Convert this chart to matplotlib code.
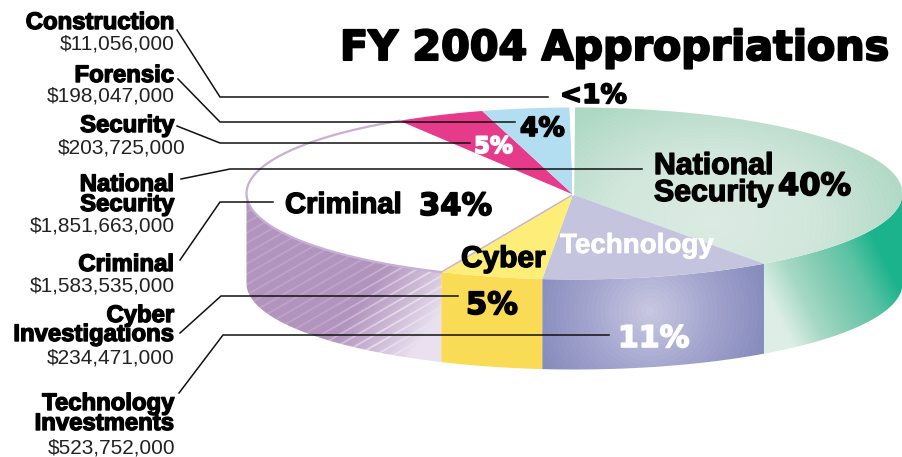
import numpy as np
import matplotlib
matplotlib.use("Agg")
import matplotlib.pyplot as plt
import matplotlib.patheffects as pe
from matplotlib.colors import LinearSegmentedColormap as LSC
from matplotlib.patches import Polygon

# ---- data (clockwise from 12 o'clock) ----
categories = ["National Security", "Technology Investments", "Cyber Investigations",
              "Criminal", "Security", "Forensic", "Construction"]
amounts = [1851663000, 523752000, 234471000, 1583535000, 203725000, 198047000, 11056000]
amount_labels = ["$1,851,663,000", "$523,752,000", "$234,471,000",
                 "$1,583,535,000", "$203,725,000", "$198,047,000", "$11,056,000"]
percent_labels = ["40%", "11%", "5%", "34%", "5%", "4%", "<1%"]
title = "FY 2004 Appropriations"

W, H = 903, 457
CX, CY, RX, RY, DEPTH = 574.5, 193.5, 328, 86, 90
AX, AY = 573, 194.5

fig = plt.figure(figsize=(W / 100, H / 100), dpi=100)
ax = fig.add_axes([0, 0, 1, 1])
ax.set_xlim(0, W); ax.set_ylim(H, 0); ax.axis("off")

vals = np.array(amounts, float)
edges = np.concatenate([[0], np.cumsum(vals) / vals.sum() * 360])


def arc(a, b, dy=0, n=160):
    t = np.radians(np.linspace(a, b, n))
    return np.c_[CX + RX * np.sin(t), CY + dy - RY * np.cos(t)]


def wedge(i):
    return np.vstack([[AX, AY], arc(edges[i], edges[i + 1])])


def wall(a, b):
    return np.vstack([arc(a, b), arc(a, b, DEPTH)[::-1]])


def painted(poly, field, stops, z):
    """Fill polygon with an image of a 0..1 field mapped through colour stops."""
    x0, y0 = poly.min(0) - 1
    x1, y1 = poly.max(0) + 1
    nx, ny = int(x1 - x0) * 2, int(y1 - y0) * 2
    X, Y = np.meshgrid(np.linspace(x0, x1, nx), np.linspace(y0, y1, ny))
    cmap = LSC.from_list("c", stops)
    im = ax.imshow(field(X, Y), cmap=cmap, vmin=0, vmax=1, extent=(x0, x1, y1, y0),
                   origin="upper", aspect="auto", zorder=z, interpolation="bilinear")
    p = Polygon(poly, closed=True, fc="none", ec="none", transform=ax.transData)
    ax.add_patch(p)
    im.set_clip_path(p)


def rings(cx, cy, rmax, period=5.0, amp=0.035, sy=1.0):
    def f(X, Y):
        r = np.hypot(X - cx, (Y - cy) * sy)
        return np.clip(r / rmax + amp * np.sin(r * 2 * np.pi / period), 0, 1)
    return f


def criminal_field(X, Y):
    base = np.clip(((440 - X) - (Y - 300) * 0.7) / 110 + 0.1, 0, 1)
    stripe = np.sin((X * 0.5 + Y * 0.87) * 2 * np.pi / 9) > 0.85
    return np.clip(base - 0.4 * stripe, 0, 1)


# ---- side walls ----
painted(wall(90, edges[1]),
        lambda X, Y: np.clip((X - 765 - (Y - 290) * 0.5) / 135, 0, 1),
        ["#DDEEE6", "#A6D9C5", "#82CBB2", "#5CC3A5", "#1AB38C"], 2)
painted(wall(edges[1], edges[2]), rings(650, 312, 118, 4.5, 0.02),
        ["#C8C8E2", "#A5A6CF", "#878CBC"], 2)
ax.add_patch(Polygon(wall(edges[2], edges[3]), fc="#FADB55", ec="none", zorder=2))
painted(wall(edges[3], 270), criminal_field,
        [(0, "#E9E1F0"), (0.4, "#CDB9D6"), (0.8, "#B294BE"), (1, "#B294BE")], 2)

# ---- top face ----
painted(wedge(0), rings(712, 222, 205, 5, 0.02, 1.5), ["#DCEBE3", "#D2E7DC", "#AED8C4"], 3)
top_colors = [None, "#C5C4DF", "#FCEE78", "white", "#E63B8B", "#B3DDF0", "white"]
for i in range(1, 7):
    ax.add_patch(Polygon(wedge(i), fc=top_colors[i], ec="none", zorder=3))
ax.plot(*arc(edges[3], edges[4]).T, color="#C7B0D3", lw=1.6, zorder=4)
ax.plot(*wedge(3)[:2].T, color="#C7B0D3", lw=1.0, zorder=4)
ax.plot([AX, AX + 1], [AY, CY - RY], color="white", lw=1.6, zorder=4)

# ---- leader lines ----
leaders_x = [[177, 220, 548], [178, 220, 515], [177, 220, 470], [181, 230, 642],
             [180, 220, 273], [180, 221, 458], [179, 223, 609]]
leaders_y = [[30, 97, 97], [79, 122, 122], [126, 143, 143], [179, 169, 169],
             [260, 202, 202], [333, 296, 296], [393, 335, 335]]
for lx, ly in zip(leaders_x, leaders_y):
    ax.plot(lx, ly, color="#111111", lw=1.1, zorder=5, solid_joinstyle="miter")


def txt(x, y, s, size, color="black", stroke=0.0, ha="left", family="Liberation Sans",
        weight="bold"):
    t = ax.text(x, y, s, fontsize=size, color=color, ha=ha, va="baseline",
                family=family, weight=weight, zorder=6)
    if stroke:
        t.set_path_effects([pe.withStroke(linewidth=stroke, foreground=color)])
    return t


HV = dict(family="DejaVu Sans", weight="bold")
# ---- title ----
txt(340, 60, title, 29.7, stroke=1.5, **HV)

# ---- left labels ----
lab = 17.2; amt = 15.0
side = [(["Construction"], [29], 50, 175, 6), (["Forensic"], [82], 102, 175, 5),
        (["Security"], [132], 153, 186, 4), (["National", "Security"], [191, 211], 232, 175, 0),
        (["Criminal"], [271], 292, 175, 3), (["Cyber", "Investigations"], [322, 341], 364, 175, 2),
        (["Technology", "Investments"], [410, 430], 453, 175, 1)]
for names, ys, ya, xa, idx in side:
    for n, y in zip(names, ys):
        txt(174, y, n, lab, ha="right", stroke=1.0)
    txt(xa, ya, amount_labels[idx], amt, ha="right", weight="normal", color="#222222")

# ---- labels on the pie ----
txt(654, 174, "National", 21.8, stroke=1.0)
txt(654, 201, "Security", 21.8, stroke=1.0)
txt(285, 213, "Criminal", 21, stroke=1.0)
txt(461, 267, "Cyber", 21.5, stroke=1.0)
txt(560, 253, "Technology", 20, color="white", stroke=0.5)

pct_pos = {0: (778, 195, "black", 22), 1: (618, 347, "white", 21.5), 2: (466, 314, "black", 22),
           3: (419, 215, "black", 22), 4: (474, 153, "white", 16.5), 5: (520, 136, "black", 19),
           6: (560, 103, "black", 19)}
for i, (x, y, c, s) in pct_pos.items():
    txt(x, y, percent_labels[i], s, color=c, stroke=1.2, **HV)

ax.set_xlim(0, W); ax.set_ylim(H, 0)
fig.savefig("out.png", dpi=100, facecolor="white")
